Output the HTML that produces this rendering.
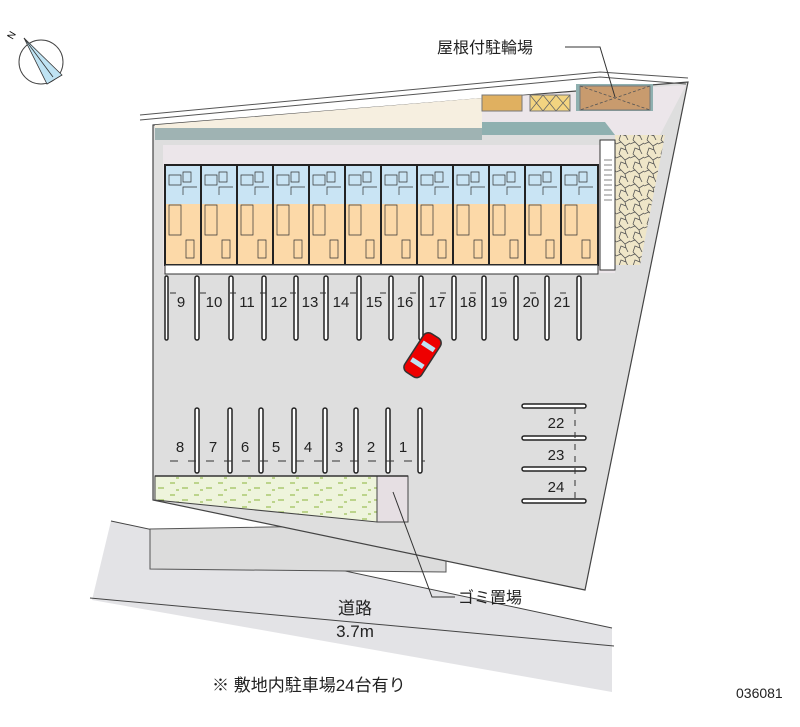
<!DOCTYPE html>
<html><head><meta charset="utf-8"><style>
html,body{margin:0;padding:0;background:#fff;}
svg{display:block;}
text{font-family:"Liberation Sans","Noto Sans CJK JP",sans-serif;}
</style></head><body>
<svg width="800" height="727" viewBox="0 0 800 727" xmlns="http://www.w3.org/2000/svg">
<defs>
<pattern id="stone" width="14" height="14" patternUnits="userSpaceOnUse">
<rect width="14" height="14" fill="#efe6c8"/>
<path d="M0 4 L5 2 L9 6 L14 3 M3 14 L5 8 L10 10 L12 14 M9 6 L10 10 M5 2 L3 0" stroke="#555" stroke-width="0.8" fill="none"/>
</pattern>
<pattern id="grass" width="24" height="12" patternUnits="userSpaceOnUse">
<rect width="24" height="12" fill="#eef4dc"/>
<path d="M2 3h5 M14 8h6 M8 10h3" stroke="#8ab33a" stroke-width="1"/>
</pattern>
</defs>

<!-- compass -->
<circle cx="41" cy="62" r="22" fill="none" stroke="#444" stroke-width="1"/>
<polygon points="24,38 47,84 62,75" fill="#bfe3f3" stroke="#333" stroke-width="0.8"/>
<line x1="24" y1="38" x2="53" y2="77" stroke="#333" stroke-width="0.8"/>
<text x="8" y="38" font-size="10" transform="rotate(-60 12 35)">N</text>

<!-- road -->
<polygon points="111,521 612,628 612,692 92,600" fill="#e3e3e6"/>
<line x1="111" y1="521" x2="612" y2="628" stroke="#444" stroke-width="1"/>
<line x1="90" y1="598" x2="614" y2="646" stroke="#444" stroke-width="1"/>
<!-- frontage -->
<polygon points="150,529 446,524 446,572 150,569" fill="#dcdcdc" stroke="#555" stroke-width="1"/>

<!-- site base -->
<polygon points="153,125 688,82 585,590 153,500" fill="#dedede" stroke="#444" stroke-width="1.2"/>
<polyline points="140,115 600,72 688,78" fill="none" stroke="#555" stroke-width="1"/>
<polyline points="140,120 600,77 686,84" fill="none" stroke="#555" stroke-width="1"/>
<polygon points="155,125 482,98 482,140 155,140" fill="#f6efe0"/>
<polygon points="155,128 482,128 482,140 155,140" fill="#9fb3b3"/>
<polygon points="482,98 686,85 660,135 482,135" fill="#ece6ea"/>
<polygon points="482,122 605,122 615,135 482,135" fill="#8fb0b0"/>
<rect x="482" y="95" width="40" height="16" fill="#e0b060" stroke="#777"/>
<rect x="530" y="95" width="40" height="16" fill="#f3d480" stroke="#777"/>
<path d="M530 95 l13 16 M543 95 l-13 16 M543 95 l13 16 M556 95 l-13 16 M556 95 l14 16 M570 95 l-14 16" stroke="#666" stroke-width="0.8"/>
<rect x="576" y="84" width="77" height="27" fill="#8fb0b0"/>
<rect x="580" y="86" width="70" height="24" fill="#c89b6e" stroke="#777"/>
<path d="M580 86 L650 110 M650 86 L580 110" stroke="#555" stroke-dasharray="3,2" stroke-width="0.8"/>
<polygon points="615,135 665,135 640,265 615,265" fill="url(#stone)"/>
<!-- building -->
<rect x="163" y="145" width="452" height="128" fill="#ece6ea"/>
<rect x="600" y="140" width="15" height="130" fill="#fff" stroke="#333"/>
<g stroke="#333" stroke-width="0.6">
<line x1="604" y1="160" x2="612" y2="160"/><line x1="604" y1="165" x2="612" y2="165"/><line x1="604" y1="170" x2="612" y2="170"/><line x1="604" y1="175" x2="612" y2="175"/><line x1="604" y1="180" x2="612" y2="180"/><line x1="604" y1="185" x2="612" y2="185"/><line x1="604" y1="190" x2="612" y2="190"/><line x1="604" y1="195" x2="612" y2="195"/><line x1="604" y1="200" x2="612" y2="200"/>
</g>
<rect x="165" y="165" width="433" height="100" fill="#fcd9a8" stroke="#222" stroke-width="2"/>
<rect x="166" y="166" width="431" height="38" fill="#c9e4f4"/>
<g stroke="#222" stroke-width="2">
<line x1="201" y1="165" x2="201" y2="265"/><line x1="237" y1="165" x2="237" y2="265"/><line x1="273" y1="165" x2="273" y2="265"/><line x1="309" y1="165" x2="309" y2="265"/><line x1="345" y1="165" x2="345" y2="265"/><line x1="381" y1="165" x2="381" y2="265"/><line x1="417" y1="165" x2="417" y2="265"/><line x1="453" y1="165" x2="453" y2="265"/><line x1="489" y1="165" x2="489" y2="265"/><line x1="525" y1="165" x2="525" y2="265"/><line x1="561" y1="165" x2="561" y2="265"/>
</g>
<g stroke="#333" stroke-width="0.7" fill="none">
<path d="M169 175h12v10h-12z M183 172h8v10h-8z M183 195v-8h14 M169 205h12v30h-12z M186 240h8v18h-8z"/>
<path d="M205 175h12v10h-12z M219 172h8v10h-8z M219 195v-8h14 M205 205h12v30h-12z M222 240h8v18h-8z"/>
<path d="M241 175h12v10h-12z M255 172h8v10h-8z M255 195v-8h14 M241 205h12v30h-12z M258 240h8v18h-8z"/>
<path d="M277 175h12v10h-12z M291 172h8v10h-8z M291 195v-8h14 M277 205h12v30h-12z M294 240h8v18h-8z"/>
<path d="M313 175h12v10h-12z M327 172h8v10h-8z M327 195v-8h14 M313 205h12v30h-12z M330 240h8v18h-8z"/>
<path d="M349 175h12v10h-12z M363 172h8v10h-8z M363 195v-8h14 M349 205h12v30h-12z M366 240h8v18h-8z"/>
<path d="M385 175h12v10h-12z M399 172h8v10h-8z M399 195v-8h14 M385 205h12v30h-12z M402 240h8v18h-8z"/>
<path d="M421 175h12v10h-12z M435 172h8v10h-8z M435 195v-8h14 M421 205h12v30h-12z M438 240h8v18h-8z"/>
<path d="M457 175h12v10h-12z M471 172h8v10h-8z M471 195v-8h14 M457 205h12v30h-12z M474 240h8v18h-8z"/>
<path d="M493 175h12v10h-12z M507 172h8v10h-8z M507 195v-8h14 M493 205h12v30h-12z M510 240h8v18h-8z"/>
<path d="M529 175h12v10h-12z M543 172h8v10h-8z M543 195v-8h14 M529 205h12v30h-12z M546 240h8v18h-8z"/>
<path d="M565 175h12v10h-12z M579 172h8v10h-8z M579 195v-8h14 M565 205h12v30h-12z M582 240h8v18h-8z"/>
</g>
<rect x="165" y="265" width="433" height="9" fill="#fff" stroke="#333" stroke-width="1"/>

<g fill="#fff" stroke="#222" stroke-width="1.5">
<rect x="195" y="276" width="4" height="64" rx="2"/><rect x="229" y="276" width="4" height="64" rx="2"/><rect x="262" y="276" width="4" height="64" rx="2"/><rect x="294" y="276" width="4" height="64" rx="2"/><rect x="324" y="276" width="4" height="64" rx="2"/><rect x="357" y="276" width="4" height="64" rx="2"/><rect x="389" y="276" width="4" height="64" rx="2"/><rect x="419" y="276" width="4" height="64" rx="2"/><rect x="452" y="276" width="4" height="64" rx="2"/><rect x="482" y="276" width="4" height="64" rx="2"/><rect x="514" y="276" width="4" height="64" rx="2"/><rect x="545" y="276" width="4" height="64" rx="2"/><rect x="577" y="276" width="4" height="64" rx="2"/>
<rect x="165" y="276" width="3" height="64" rx="1.5"/>
</g>
<g font-size="15" fill="#222" text-anchor="middle">
<text x="181" y="307">9</text><text x="214" y="307">10</text><text x="247" y="307">11</text><text x="279" y="307">12</text><text x="310" y="307">13</text><text x="341" y="307">14</text><text x="374" y="307">15</text><text x="405" y="307">16</text><text x="437" y="307">17</text><text x="468" y="307">18</text><text x="499" y="307">19</text><text x="531" y="307">20</text><text x="562" y="307">21</text>
</g>
<line x1="170" y1="293" x2="590" y2="293" stroke="#333" stroke-dasharray="6,24" stroke-width="1"/>

<g transform="rotate(33 422 356)">
<rect x="412" y="332" width="20" height="46" rx="6" fill="#e00" stroke="#333" stroke-width="1.5"/>
<rect x="415" y="342" width="14" height="5" fill="#bfe3f3"/>
<rect x="415" y="362" width="14" height="5" fill="#bfe3f3"/>
</g>

<g fill="#fff" stroke="#222" stroke-width="1.5">
<rect x="195" y="408" width="4" height="65" rx="2"/><rect x="228" y="408" width="4" height="65" rx="2"/><rect x="259" y="408" width="4" height="65" rx="2"/><rect x="292" y="408" width="4" height="65" rx="2"/><rect x="323" y="408" width="4" height="65" rx="2"/><rect x="354" y="408" width="4" height="65" rx="2"/><rect x="386" y="408" width="4" height="65" rx="2"/><rect x="418" y="408" width="4" height="65" rx="2"/>
</g>
<line x1="170" y1="461" x2="425" y2="461" stroke="#333" stroke-dasharray="8,10" stroke-width="1"/>
<g font-size="15" fill="#222" text-anchor="middle">
<text x="180" y="452">8</text><text x="213" y="452">7</text><text x="245" y="452">6</text><text x="276" y="452">5</text><text x="308" y="452">4</text><text x="339" y="452">3</text><text x="371" y="452">2</text><text x="403" y="452">1</text>
</g>
<g fill="#fff" stroke="#222" stroke-width="1.5">
<rect x="522" y="404" width="64" height="4" rx="2"/><rect x="522" y="436" width="64" height="4" rx="2"/><rect x="522" y="467" width="64" height="4" rx="2"/><rect x="522" y="499" width="64" height="4" rx="2"/>
</g>
<line x1="575" y1="408" x2="575" y2="500" stroke="#333" stroke-dasharray="6,6"/>
<g font-size="15" fill="#222" text-anchor="middle">
<text x="556" y="428">22</text><text x="556" y="460">23</text><text x="556" y="492">24</text>
</g>

<polygon points="155,476 377,476 377,522 155,500" fill="url(#grass)" stroke="#444" stroke-width="1"/>
<rect x="377" y="476" width="31" height="46" fill="#e6dfe3" stroke="#444" stroke-width="1"/>
<line x1="155" y1="476" x2="408" y2="476" stroke="#333" stroke-width="1.5"/>

<polyline points="393,492 432,597 455,597" fill="none" stroke="#333" stroke-width="1"/>
<polyline points="565,47 600,47 615,97" fill="none" stroke="#333" stroke-width="1"/>

<g font-size="16" fill="#222">
<text x="437" y="53">屋根付駐輪場</text>
<text x="458" y="603">ゴミ置場</text>
<text x="355" y="614" text-anchor="middle" font-size="17">道路</text>
<text x="355" y="637" text-anchor="middle" font-size="17">3.7m</text>
<text x="212" y="691" font-size="17">※ 敷地内駐車場24台有り</text>
</g>
<text x="736" y="698" font-size="14" fill="#222">036081</text>
</svg>
</body></html>
